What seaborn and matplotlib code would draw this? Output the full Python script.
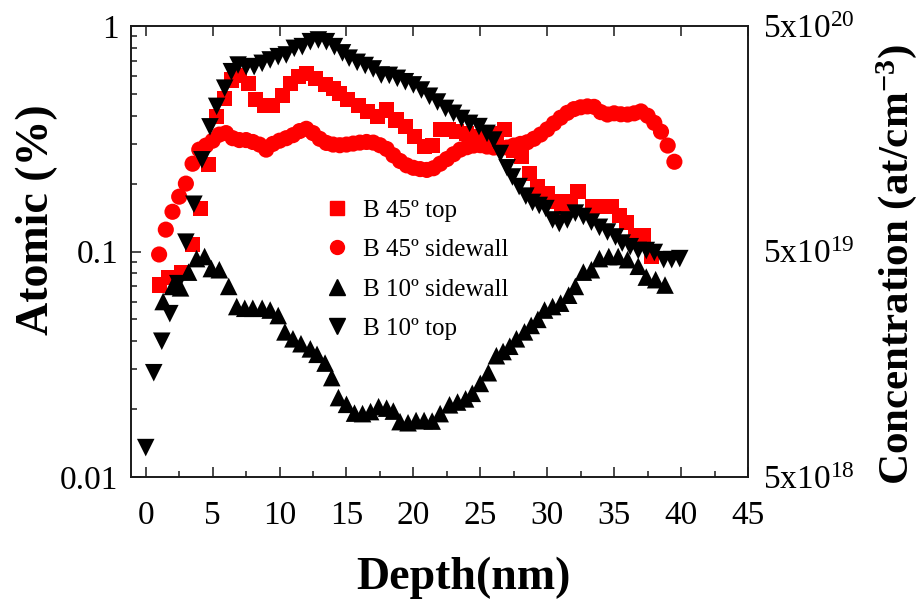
import matplotlib
matplotlib.use("Agg")
import matplotlib.pyplot as plt
import pandas as pd
import seaborn as sns
from matplotlib.lines import Line2D
from matplotlib.ticker import FixedLocator, LogLocator, MultipleLocator, NullFormatter, NullLocator

# ---- SIMS boron profiles: depth (nm) vs atomic fraction (%) ----
depth_45_top = [1.0, 1.7, 2.7, 3.5, 4.1, 4.7, 5.3, 5.9, 6.4, 7.0, 7.7, 8.2, 8.9, 9.5,
                10.2, 10.8, 11.4, 12.0, 12.7, 13.4, 14.0, 14.5, 15.1, 15.9, 16.6, 17.3,
                18.0, 18.7, 19.4, 20.1, 20.8, 21.4, 22.0, 22.6, 23.2, 24.0, 24.7, 25.4,
                26.2, 26.8, 27.5, 28.1, 28.7, 29.3, 30.0, 30.6, 31.1, 31.7, 32.3, 33.4,
                34.1, 34.8, 35.4, 35.9, 36.6, 37.2, 37.8]
atomic_45_top = [0.071, 0.077, 0.081, 0.107, 0.155, 0.242, 0.396, 0.478, 0.576, 0.606,
                 0.557, 0.470, 0.446, 0.446, 0.494, 0.557, 0.596, 0.617, 0.586, 0.548,
                 0.530, 0.503, 0.470, 0.446, 0.417, 0.396, 0.424, 0.383, 0.358, 0.323,
                 0.291, 0.296, 0.346, 0.346, 0.340, 0.334, 0.323, 0.312, 0.334, 0.346,
                 0.282, 0.263, 0.222, 0.194, 0.181, 0.166, 0.155, 0.166, 0.184, 0.158,
                 0.158, 0.158, 0.145, 0.135, 0.118, 0.118, 0.095]

depth_45_side = [1.0, 1.5, 2.0, 2.5, 3.0, 3.5, 4.0, 4.5, 5.0, 5.5, 6.0, 6.5, 7.0, 7.5,
                 8.0, 8.5, 9.0, 9.5, 10.0, 10.5, 11.0, 11.5, 12.0, 12.5, 13.0, 13.5,
                 14.0, 14.5, 15.0, 15.5, 16.0, 16.5, 17.0, 17.5, 18.0, 18.5, 19.0, 19.5,
                 20.0, 20.5, 21.0, 21.5, 22.0, 22.5, 23.0, 23.5, 24.0, 24.5, 25.0, 25.5,
                 26.0, 26.5, 27.0, 27.5, 28.0, 28.5, 29.0, 29.5, 30.0, 30.5, 31.0, 31.5,
                 32.0, 32.5, 33.0, 33.5, 34.0, 34.5, 35.0, 35.5, 36.0, 36.5, 37.0, 37.5,
                 38.0, 38.5, 39.0, 39.5]
atomic_45_side = [0.097, 0.125, 0.150, 0.175, 0.200, 0.245, 0.283, 0.295, 0.310, 0.330,
                  0.335, 0.318, 0.312, 0.312, 0.306, 0.298, 0.283, 0.300, 0.310, 0.318,
                  0.328, 0.342, 0.350, 0.335, 0.316, 0.303, 0.298, 0.296, 0.298, 0.301,
                  0.304, 0.306, 0.304, 0.296, 0.285, 0.267, 0.252, 0.241, 0.235, 0.232,
                  0.230, 0.234, 0.245, 0.257, 0.270, 0.283, 0.290, 0.295, 0.296, 0.292,
                  0.289, 0.287, 0.289, 0.295, 0.300, 0.305, 0.316, 0.330, 0.348, 0.370,
                  0.392, 0.412, 0.428, 0.436, 0.440, 0.438, 0.415, 0.405, 0.410, 0.406,
                  0.405, 0.410, 0.418, 0.400, 0.372, 0.340, 0.295, 0.250]

depth_10_side = [1.3, 2.0, 2.6, 3.2, 3.8, 4.4, 4.9, 5.5, 6.2, 6.8, 7.4, 8.0, 8.7, 9.3,
                 9.9, 10.4, 11.0, 11.6, 12.3, 12.8, 13.4, 13.9, 14.4, 15.0, 15.6, 16.2,
                 16.8, 17.4, 18.0, 18.5, 19.0, 19.6, 20.2, 20.8, 21.4, 22.0, 22.7, 23.3,
                 23.9, 24.4, 25.0, 25.6, 26.2, 26.7, 27.2, 27.7, 28.3, 28.8, 29.3, 29.8,
                 30.4, 31.0, 31.6, 32.1, 32.7, 33.3, 33.9, 34.6, 35.3, 36.0, 36.8, 37.4,
                 38.1, 38.8]
atomic_10_side = [0.060, 0.070, 0.069, 0.081, 0.093, 0.095, 0.084, 0.083, 0.070, 0.057,
                  0.056, 0.056, 0.056, 0.055, 0.052, 0.044, 0.041, 0.039, 0.037, 0.035,
                  0.032, 0.0276, 0.0225, 0.021, 0.0192, 0.0191, 0.0195, 0.0205, 0.0202,
                  0.0196, 0.0176, 0.0174, 0.0178, 0.0178, 0.0177, 0.0191, 0.0209, 0.0215,
                  0.0222, 0.0235, 0.026, 0.029, 0.0345, 0.036, 0.038, 0.041, 0.044, 0.047,
                  0.050, 0.055, 0.057, 0.059, 0.064, 0.070, 0.081, 0.083, 0.093, 0.095,
                  0.095, 0.092, 0.086, 0.077, 0.075, 0.071]

depth_10_top = [0.0, 0.6, 1.2, 1.8, 2.4, 3.0, 3.6, 4.2, 4.8, 5.3, 5.9, 6.4, 6.9, 7.5,
                8.1, 8.7, 9.3, 9.9, 10.5, 11.1, 11.7, 12.3, 12.9, 13.5, 14.1, 14.7, 15.2,
                15.8, 16.4, 17.0, 17.6, 18.2, 18.8, 19.4, 20.0, 20.6, 21.2, 21.8, 22.4,
                23.0, 23.6, 24.2, 24.9, 25.5, 26.0, 26.5, 27.0, 27.4, 27.9, 28.4, 28.9,
                29.4, 29.9, 30.4, 30.9, 31.5, 32.1, 32.7, 33.3, 33.9, 34.5, 35.1, 35.6,
                36.2, 36.8, 37.4, 38.0, 38.7, 39.3, 39.9]
atomic_10_top = [0.0135, 0.029, 0.040, 0.053, 0.072, 0.110, 0.162, 0.255, 0.357, 0.440,
                 0.530, 0.627, 0.671, 0.660, 0.660, 0.683, 0.707, 0.731, 0.744, 0.796,
                 0.810, 0.852, 0.867, 0.852, 0.810, 0.760, 0.720, 0.690, 0.668, 0.645,
                 0.606, 0.604, 0.586, 0.566, 0.548, 0.520, 0.488, 0.460, 0.431, 0.410,
                 0.389, 0.370, 0.358, 0.334, 0.312, 0.272, 0.235, 0.214, 0.194, 0.176,
                 0.165, 0.160, 0.155, 0.138, 0.133, 0.138, 0.148, 0.143, 0.135, 0.128,
                 0.122, 0.116, 0.109, 0.105, 0.101, 0.101, 0.099, 0.092, 0.092, 0.093]

series_names = ["B 45º top", "B 45º sidewall", "B 10º sidewall", "B 10º top"]
x_ticks = [0, 5, 10, 15, 20, 25, 30, 35, 40, 45]
y_ticks = [0.01, 0.1, 1]
y_tick_labels = ["0.01", "0.1", "1"]
conc_ticks = [5e18, 5e19, 5e20]
conc_tick_labels = [r"5x10$^{\mathrm{18}}$", r"5x10$^{\mathrm{19}}$", r"5x10$^{\mathrm{20}}$"]

profiles = pd.concat([
    pd.DataFrame({"Depth": depth_45_top, "Atomic": atomic_45_top, "Series": series_names[0]}),
    pd.DataFrame({"Depth": depth_45_side, "Atomic": atomic_45_side, "Series": series_names[1]}),
    pd.DataFrame({"Depth": depth_10_side, "Atomic": atomic_10_side, "Series": series_names[2]}),
    pd.DataFrame({"Depth": depth_10_top, "Atomic": atomic_10_top, "Series": series_names[3]}),
], ignore_index=True)

sns.set_style("ticks")
plt.rcParams["font.family"] = ["Liberation Serif", "DejaVu Serif"]
plt.rcParams["mathtext.fontset"] = "custom"
plt.rcParams["mathtext.rm"] = "Liberation Serif"
plt.rcParams["mathtext.it"] = "Liberation Serif:italic"
plt.rcParams["mathtext.bf"] = "Liberation Serif:bold"
for key in ["text.color", "axes.labelcolor", "xtick.color", "ytick.color", "axes.edgecolor"]:
    plt.rcParams[key] = "black"

style = {
    "B 45º top": dict(marker="s", color="#ff0000", s=118),
    "B 45º sidewall": dict(marker="o", color="#ff0000", s=135),
    "B 10º sidewall": dict(marker="^", color="#000000", s=160),
    "B 10º top": dict(marker="v", color="#000000", s=160),
}

fig = plt.figure(figsize=(9.23, 6.03), dpi=100)
W, H = 923, 603
ax = fig.add_axes([131 / W, 1 - 477 / H, 617 / W, 451 / H])

for name in series_names:
    sub = profiles[profiles["Series"] == name]
    sns.scatterplot(data=sub, x="Depth", y="Atomic", ax=ax, legend=False,
                    linewidth=0, edgecolor="none", zorder=3, **style[name])

ax.set_yscale("log")
ax.set_ylim(0.01, 1)
ax.set_xlim(-1.1, 45)

ax.xaxis.set_major_locator(FixedLocator(x_ticks))
ax.xaxis.set_minor_locator(MultipleLocator(2.5))
ax.set_xticklabels([str(t) for t in x_ticks])
ax.yaxis.set_major_locator(FixedLocator(y_ticks))
ax.set_yticklabels(y_tick_labels)
ax.yaxis.set_minor_locator(LogLocator(base=10, subs=[2, 3, 4, 5, 6, 7, 8, 9]))
ax.yaxis.set_minor_formatter(NullFormatter())

spine_color = "#1a1a1a"
for sp in ax.spines.values():
    sp.set_linewidth(1.4)
    sp.set_color(spine_color)

ax.tick_params(which="both", direction="in", top=True, right=True,
               color=spine_color, labelcolor="black", width=1.1, labelsize=24)
ax.tick_params(which="major", length=7)
ax.tick_params(which="minor", length=4)
ax.tick_params(axis="x", which="minor", top=False)
ax.tick_params(axis="x", which="major", pad=17)
ax.tick_params(axis="y", which="major", pad=9)

ax.set_xlabel("Depth(nm)", fontsize=33, fontweight="bold", color="black")
ax.xaxis.set_label_coords(0.538, -0.224)
ax.xaxis.label.set_va("center")
ax.set_ylabel("Atomic (%)", fontsize=33, fontweight="bold", color="black")
ax.yaxis.set_label_coords(-0.153, 0.57)
ax.yaxis.label.set_va("center")

# Concentration scale sharing the same decades on the right
ax2 = ax.twinx()
ax2.set_yscale("log")
ax2.set_ylim(5e18, 5e20)
ax2.yaxis.set_major_locator(FixedLocator(conc_ticks))
ax2.set_yticklabels(conc_tick_labels)
ax2.yaxis.set_minor_locator(NullLocator())
ax2.tick_params(axis="y", which="major", length=0, pad=11, labelsize=24, labelcolor="black")
for sp in ax2.spines.values():
    sp.set_visible(False)
ax2.set_ylabel(r"Concentration (at/cm$^{\mathbf{-3}}$)", fontsize=31, fontweight="bold",
               color="black")
ax2.yaxis.set_label_coords(1.2415, 0.472)
ax2.yaxis.label.set_va("center")
ax2.yaxis.label.set_rotation(90)

handles = [Line2D([], [], linestyle="", marker=style[n]["marker"], color=style[n]["color"],
                  markersize=10 if style[n]["marker"] in "so" else 11) for n in series_names]
leg = ax.legend(handles, series_names, loc="center left", bbox_to_anchor=(0.3136, 0.46),
                frameon=False, fontsize=18, handlelength=1.0, handletextpad=0.54,
                labelspacing=0.68, borderpad=0, borderaxespad=0)
for t in leg.get_texts():
    t.set_color("black")

fig.savefig("out.png", dpi=100)
